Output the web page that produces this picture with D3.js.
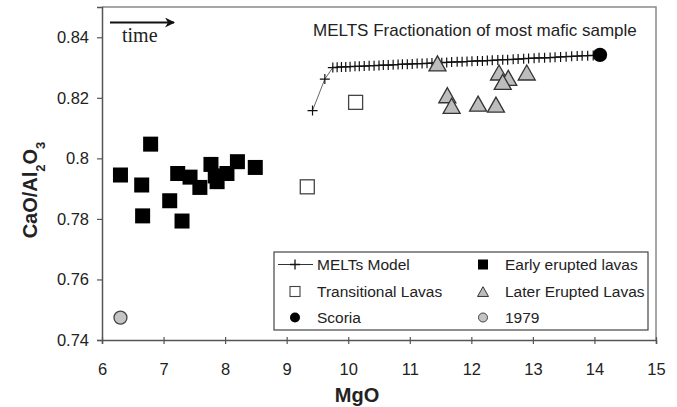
<!DOCTYPE html>
<html>
<head>
<meta charset="utf-8">
<script src="https://cdn.jsdelivr.net/npm/d3@7"></script>
<style>
  html, body { margin: 0; padding: 0; background: #fff; }
  svg { display: block; font-family: "Liberation Sans", Arial, sans-serif; }
</style>
</head>
<body>
<svg id="chart" width="677" height="407"></svg>
<script>
// Axis ticks
const xTicks = [6, 7, 8, 9, 10, 11, 12, 13, 14, 15];
const yTicks = [0.74, 0.76, 0.78, 0.80, 0.82, 0.84];

// MELTS fractionation path of the most mafic sample
const meltsMgO = [9.42, 9.62, 9.75, 9.82, 9.89, 9.96, 10.03, 10.11, 10.18, 10.26, 10.34, 10.42, 10.50, 10.57,
  10.65, 10.73, 10.81, 10.88, 10.96, 11.04, 11.12, 11.20, 11.28, 11.36, 11.44, 11.52, 11.60, 11.68, 11.77,
  11.85, 11.93, 12.01, 12.10, 12.18, 12.26, 12.34, 12.43, 12.51, 12.59, 12.68, 12.76, 12.85, 12.93, 13.02,
  13.10, 13.19, 13.28, 13.36, 13.45, 13.54, 13.63, 13.72, 13.80, 13.89, 13.98, 14.06];
const meltsRatio = [0.8158, 0.8262, 0.8300, 0.8301, 0.8302, 0.8302, 0.8303, 0.8304, 0.8304, 0.8305, 0.8306,
  0.8306, 0.8307, 0.8308, 0.8308, 0.8309, 0.8310, 0.8311, 0.8311, 0.8312, 0.8313, 0.8313, 0.8314, 0.8315,
  0.8316, 0.8316, 0.8317, 0.8318, 0.8319, 0.8319, 0.8320, 0.8321, 0.8322, 0.8322, 0.8323, 0.8324, 0.8325,
  0.8326, 0.8326, 0.8327, 0.8328, 0.8329, 0.8330, 0.8331, 0.8332, 0.8332, 0.8333, 0.8334, 0.8335, 0.8336,
  0.8337, 0.8338, 0.8339, 0.8339, 0.8340, 0.8341];

// Early erupted lavas
const earlyMgO = [6.30, 6.645, 6.66, 6.79, 7.10, 7.23, 7.30, 7.43, 7.59, 7.77, 7.84, 7.87, 8.03, 8.20, 8.49];
const earlyRatio = [0.7945, 0.7912, 0.7810, 0.8047, 0.7860, 0.7950, 0.7793, 0.7938, 0.7904, 0.7980, 0.7942,
  0.7923, 0.7950, 0.7989, 0.7970];

// Transitional lavas
const transMgO = [9.335, 10.12];
const transRatio = [0.7906, 0.8185];

// Later erupted lavas
const laterMgO = [11.45, 11.61, 11.68, 12.11, 12.40, 12.45, 12.60, 12.51, 12.90];
const laterRatio = [0.8309, 0.8204, 0.8169, 0.8176, 0.8173, 0.8279, 0.8261, 0.8248, 0.8279];

// Scoria and the 1979 sample
const scoriaMgO = [14.09];
const scoriaRatio = [0.8342];
const y1979MgO = [6.30];
const y1979Ratio = [0.7474];

const legendLabels = ["MELTs Model", "Transitional Lavas", "Scoria",
                      "Early erupted lavas", "Later Erupted Lavas", "1979"];

const svg = d3.select("#chart");
const x = d3.scaleLinear().domain([6, 15]).range([102, 656]);
const y = d3.scaleLinear().domain([0.74, 0.85]).range([340, 7]);

const zip = (a, b) => a.map((v, i) => [v, b[i]]);

// Plot frame (top and right)
svg.append("path")
  .attr("d", `M${x(6)},${y(0.85)}H${x(15)}V${y(0.74)}`)
  .attr("fill", "none").attr("stroke", "#8a8a8a").attr("stroke-width", 1.5);

// Axes
const xAxis = svg.append("g").attr("transform", `translate(0,${y(0.74)})`)
  .call(d3.axisBottom(x).tickValues(xTicks).tickFormat(d3.format("d")).tickSize(4).tickPadding(19));
const yAxis = svg.append("g").attr("transform", `translate(${x(6)},0)`)
  .call(d3.axisLeft(y).tickValues(yTicks).tickFormat(d => String(+d.toFixed(2))).tickSize(5).tickPadding(8));
[xAxis, yAxis].forEach(g => {
  g.select(".domain").attr("stroke", "#555").attr("stroke-width", 1.5);
  g.selectAll(".tick line").attr("stroke", "#555").attr("stroke-width", 1.2);
  g.selectAll(".tick text").attr("fill", "#222").style("font-size", "16.5px")
    .style("font-family", "'Liberation Sans', Arial, sans-serif");
});
// bottom ticks cross the axis line slightly
xAxis.selectAll(".tick line").attr("y1", -3);

// Axis titles
svg.append("text").attr("x", 357).attr("y", 402).attr("text-anchor", "middle")
  .style("font-size", "20px").style("font-weight", "bold").attr("fill", "#222").text("MgO");
const yl = svg.append("text").attr("transform", "translate(37,190) rotate(-90)")
  .attr("text-anchor", "middle").style("font-size", "20px").style("font-weight", "bold").attr("fill", "#222");
yl.append("tspan").text("CaO/Al");
yl.append("tspan").attr("baseline-shift", "sub").style("font-size", "13px").text("2");
yl.append("tspan").text("O");
yl.append("tspan").attr("baseline-shift", "sub").style("font-size", "13px").text("3");

// Title
svg.append("text").attr("x", 313).attr("y", 36).style("font-size", "17px").attr("fill", "#222")
  .text("MELTS Fractionation of most mafic sample");

// Time arrow
const defs = svg.append("defs");
defs.append("marker").attr("id", "arrowHead").attr("viewBox", "0 0 10 10")
  .attr("refX", 9).attr("refY", 5).attr("markerWidth", 16).attr("markerHeight", 10)
  .attr("markerUnits", "userSpaceOnUse").attr("orient", "auto")
  .append("path").attr("d", "M0,0L10,5L0,10L3,5Z").attr("fill", "#111");
svg.append("line").attr("x1", 110).attr("y1", 22.5).attr("x2", 174).attr("y2", 22.5)
  .attr("stroke", "#111").attr("stroke-width", 1.8).attr("marker-end", "url(#arrowHead)");
svg.append("text").attr("x", 122).attr("y", 42).style("font-family", "'Liberation Serif', 'Times New Roman', serif")
  .style("font-size", "20px").attr("fill", "#222").text("time");

// Symbol helpers
const plusPath = s => `M${-s},0H${s}M0,${-s}V${s}`;
const triPath = s => `M0,${-s * 1.05}L${s},${s * 0.72}L${-s},${s * 0.72}Z`;

// MELTS model line and markers
const melts = zip(meltsMgO, meltsRatio);
svg.append("path").datum(melts)
  .attr("d", d3.line().x(d => x(d[0])).y(d => y(d[1])))
  .attr("fill", "none").attr("stroke", "#666").attr("stroke-width", 1);
svg.append("g").selectAll("path").data(melts).join("path")
  .attr("transform", d => `translate(${x(d[0])},${y(d[1])})`)
  .attr("d", plusPath(5)).attr("stroke", "#111").attr("stroke-width", 1.2).attr("fill", "none");

// Early erupted lavas
svg.append("g").selectAll("rect").data(zip(earlyMgO, earlyRatio)).join("rect")
  .attr("x", d => x(d[0]) - 7.5).attr("y", d => y(d[1]) - 7.5)
  .attr("width", 15).attr("height", 15).attr("fill", "#000");

// Transitional lavas
svg.append("g").selectAll("rect").data(zip(transMgO, transRatio)).join("rect")
  .attr("x", d => x(d[0]) - 7).attr("y", d => y(d[1]) - 7)
  .attr("width", 14).attr("height", 14).attr("fill", "#fff").attr("stroke", "#444").attr("stroke-width", 1.3);

// Later erupted lavas
svg.append("g").selectAll("path").data(zip(laterMgO, laterRatio)).join("path")
  .attr("transform", d => `translate(${x(d[0])},${y(d[1])})`)
  .attr("d", triPath(8.5)).attr("fill", "#bdbdbd").attr("stroke", "#333").attr("stroke-width", 1.3);

// Scoria
svg.append("g").selectAll("circle").data(zip(scoriaMgO, scoriaRatio)).join("circle")
  .attr("cx", d => x(d[0])).attr("cy", d => y(d[1])).attr("r", 7.2).attr("fill", "#000");

// 1979
svg.append("g").selectAll("circle").data(zip(y1979MgO, y1979Ratio)).join("circle")
  .attr("cx", d => x(d[0])).attr("cy", d => y(d[1])).attr("r", 6.5)
  .attr("fill", "#c4c4c4").attr("stroke", "#444").attr("stroke-width", 1.3);

// Legend
const lg = svg.append("g");
lg.append("rect").attr("x", 274).attr("y", 252).attr("width", 374).attr("height", 78)
  .attr("fill", "#fff").attr("stroke", "#444").attr("stroke-width", 1.2);
const rowY = [264.5, 291.5, 317.5];
const colSym = [295, 483];
const colText = [317, 505];
legendLabels.forEach((t, i) => {
  const c = Math.floor(i / 3), r = i % 3;
  lg.append("text").attr("x", colText[c]).attr("y", rowY[r] + 5.5).style("font-size", "15.5px")
    .attr("fill", "#222").text(t);
});
// legend symbols
lg.append("line").attr("x1", 278).attr("x2", 313).attr("y1", rowY[0]).attr("y2", rowY[0])
  .attr("stroke", "#333").attr("stroke-width", 1);
lg.append("path").attr("transform", `translate(${colSym[0]},${rowY[0]})`).attr("d", plusPath(5))
  .attr("stroke", "#111").attr("stroke-width", 1.3);
lg.append("rect").attr("x", colSym[0] - 5).attr("y", rowY[1] - 5).attr("width", 10).attr("height", 10)
  .attr("fill", "#fff").attr("stroke", "#444").attr("stroke-width", 1.1);
lg.append("circle").attr("cx", colSym[0]).attr("cy", rowY[2]).attr("r", 5).attr("fill", "#000");
lg.append("rect").attr("x", colSym[1] - 5).attr("y", rowY[0] - 5).attr("width", 10).attr("height", 10)
  .attr("fill", "#000");
lg.append("path").attr("transform", `translate(${colSym[1]},${rowY[1] + 1})`).attr("d", triPath(5.5))
  .attr("fill", "#bdbdbd").attr("stroke", "#333").attr("stroke-width", 1);
lg.append("circle").attr("cx", colSym[1]).attr("cy", rowY[2]).attr("r", 4.5)
  .attr("fill", "#c4c4c4").attr("stroke", "#444").attr("stroke-width", 1);
</script>
</body>
</html>
